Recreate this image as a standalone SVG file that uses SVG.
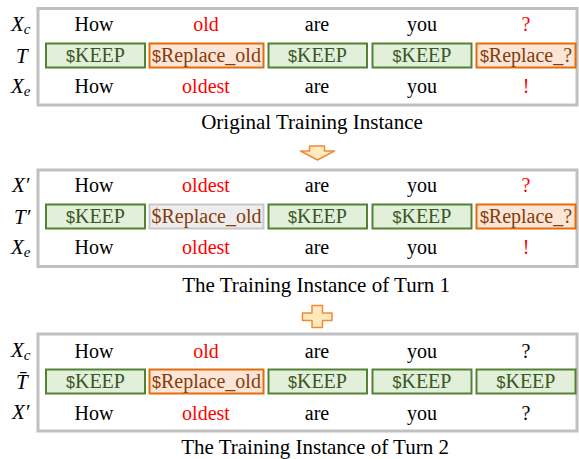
<svg xmlns="http://www.w3.org/2000/svg" width="579" height="459" viewBox="0 0 579 459">
<style>
.panel{fill:#ffffff;stroke:#c0c0c0;stroke-width:3}
.keep{fill:#e2efda;stroke:#548235;stroke-width:2}
.rep{fill:#fbe5d6;stroke:#e46c0a;stroke-width:2}
.gray{fill:#ededed;stroke:#c8c8c8;stroke-width:2}
.w{font-family:"Liberation Serif","Times New Roman",serif;font-size:20px;fill:#000;text-anchor:middle}
.red{fill:#ff0000}
.kt{font-family:"Liberation Serif","Times New Roman",serif;font-size:20px;fill:#385723;text-anchor:middle}
.rt{font-family:"Liberation Serif","Times New Roman",serif;font-size:20px;fill:#843c0c;text-anchor:middle}
.dol{font-family:"Liberation Sans",Arial,sans-serif;font-size:16px}
.lab{font-family:"Liberation Serif","Times New Roman",serif;font-style:italic;font-size:21px;fill:#000}
.sub{font-size:15px}
.cap{font-family:"Liberation Serif","Times New Roman",serif;font-size:21px;fill:#000;text-anchor:middle}
.shape{fill:#ffe9bd;stroke:#f08a3a;stroke-width:1.5;stroke-linejoin:round}
</style>

<g id="panel1">
  <rect class="panel" x="38" y="8.5" width="539" height="96.5"/>
  <text class="lab" x="11" y="31">X<tspan class="sub" dy="2.5">c</tspan></text>
  <text class="lab" x="16" y="62.5">T</text>
  <text class="lab" x="11" y="93">X<tspan class="sub" dy="2.5">e</tspan></text>
  <g id="p1-row1">
    <text class="w" x="94" y="31">How</text>
    <text class="w red" x="206" y="31">old</text>
    <text class="w" x="317" y="31">are</text>
    <text class="w" x="422" y="31">you</text>
    <text class="w red" x="526" y="31">?</text>
  </g>
  <g id="p1-t1"><rect class="keep" x="46" y="43.5" width="99" height="24"/><text class="kt" x="95.5" y="62"><tspan class="dol">$</tspan>KEEP</text></g>
  <g id="p1-t2"><rect class="rep" x="149.5" y="43.5" width="114" height="24"/><text class="rt" x="206.5" y="62"><tspan class="dol">$</tspan>Replace_old</text></g>
  <g id="p1-t3"><rect class="keep" x="268.5" y="43.5" width="98.5" height="24"/><text class="kt" x="317.5" y="62"><tspan class="dol">$</tspan>KEEP</text></g>
  <g id="p1-t4"><rect class="keep" x="372.5" y="43.5" width="99" height="24"/><text class="kt" x="422" y="62"><tspan class="dol">$</tspan>KEEP</text></g>
  <g id="p1-t5"><rect class="rep" x="476.5" y="43.5" width="99" height="24"/><text class="rt" x="526" y="62"><tspan class="dol">$</tspan>Replace_?</text></g>
  <g id="p1-row3">
    <text class="w" x="94" y="93">How</text>
    <text class="w red" x="206" y="93">oldest</text>
    <text class="w" x="317" y="93">are</text>
    <text class="w" x="422" y="93">you</text>
    <text class="w red" x="526" y="93">!</text>
  </g>
  <text class="cap" x="312" y="129">Original Training Instance</text>
</g>

<g id="panel2">
  <rect class="panel" x="38" y="170" width="539" height="96.5"/>
  <text class="lab" x="12" y="192">X′</text>
  <text class="lab" x="14" y="223.5">T′</text>
  <text class="lab" x="11" y="254">X<tspan class="sub" dy="2.5">e</tspan></text>
  <g id="p2-row1">
    <text class="w" x="94" y="192">How</text>
    <text class="w red" x="206" y="192">oldest</text>
    <text class="w" x="317" y="192">are</text>
    <text class="w" x="422" y="192">you</text>
    <text class="w red" x="526" y="192">?</text>
  </g>
  <g id="p2-t1"><rect class="keep" x="46" y="204.5" width="99" height="24"/><text class="kt" x="95.5" y="223"><tspan class="dol">$</tspan>KEEP</text></g>
  <g id="p2-t2"><rect class="gray" x="149.5" y="204.5" width="114" height="24"/><text class="rt" x="206.5" y="223">$Replace_old</text></g>
  <g id="p2-t3"><rect class="keep" x="268.5" y="204.5" width="98.5" height="24"/><text class="kt" x="317.5" y="223"><tspan class="dol">$</tspan>KEEP</text></g>
  <g id="p2-t4"><rect class="keep" x="372.5" y="204.5" width="99" height="24"/><text class="kt" x="422" y="223"><tspan class="dol">$</tspan>KEEP</text></g>
  <g id="p2-t5"><rect class="rep" x="476.5" y="204.5" width="99" height="24"/><text class="rt" x="526" y="223"><tspan class="dol">$</tspan>Replace_?</text></g>
  <g id="p2-row3">
    <text class="w" x="94" y="254">How</text>
    <text class="w red" x="206" y="254">oldest</text>
    <text class="w" x="317" y="254">are</text>
    <text class="w" x="422" y="254">you</text>
    <text class="w red" x="526" y="254">!</text>
  </g>
  <text class="cap" x="316" y="291.5">The Training Instance of Turn 1</text>
</g>

<g id="panel3">
  <rect class="panel" x="38" y="334" width="539" height="97"/>
  <text class="lab" x="11" y="357">X<tspan class="sub" dy="2.5">c</tspan></text>
  <text class="lab" x="16" y="388.5">T̄</text>
  <text class="lab" x="12" y="419">X′</text>
  <g id="p3-row1">
    <text class="w" x="94" y="357.5">How</text>
    <text class="w red" x="206" y="357.5">old</text>
    <text class="w" x="317" y="357.5">are</text>
    <text class="w" x="422" y="357.5">you</text>
    <text class="w" x="526" y="357.5">?</text>
  </g>
  <g id="p3-t1"><rect class="keep" x="46" y="369.5" width="99" height="24"/><text class="kt" x="95.5" y="387.5"><tspan class="dol">$</tspan>KEEP</text></g>
  <g id="p3-t2"><rect class="rep" x="149.5" y="369.5" width="114" height="24"/><text class="rt" x="206.5" y="387.5"><tspan class="dol">$</tspan>Replace_old</text></g>
  <g id="p3-t3"><rect class="keep" x="268.5" y="369.5" width="98.5" height="24"/><text class="kt" x="317.5" y="387.5"><tspan class="dol">$</tspan>KEEP</text></g>
  <g id="p3-t4"><rect class="keep" x="372.5" y="369.5" width="99" height="24"/><text class="kt" x="422" y="387.5"><tspan class="dol">$</tspan>KEEP</text></g>
  <g id="p3-t5"><rect class="keep" x="476.5" y="369.5" width="99" height="24"/><text class="kt" x="526" y="387.5"><tspan class="dol">$</tspan>KEEP</text></g>
  <g id="p3-row3">
    <text class="w" x="94" y="419.5">How</text>
    <text class="w red" x="206" y="419.5">oldest</text>
    <text class="w" x="317" y="419.5">are</text>
    <text class="w" x="422" y="419.5">you</text>
    <text class="w" x="526" y="419.5">?</text>
  </g>
  <text class="cap" x="315" y="454">The Training Instance of Turn 2</text>
</g>

<g id="connectors">
  <polygon class="shape" points="309.5,146 324.5,146 324.5,151 334.5,151 317.5,160 300.5,151 309.5,151"/>
  <polygon class="shape" points="312,305.5 322.5,305.5 322.5,313 332,313 332,320.5 322.5,320.5 322.5,327.5 312,327.5 312,320.5 302.5,320.5 302.5,313 312,313"/>
</g>
</svg>
